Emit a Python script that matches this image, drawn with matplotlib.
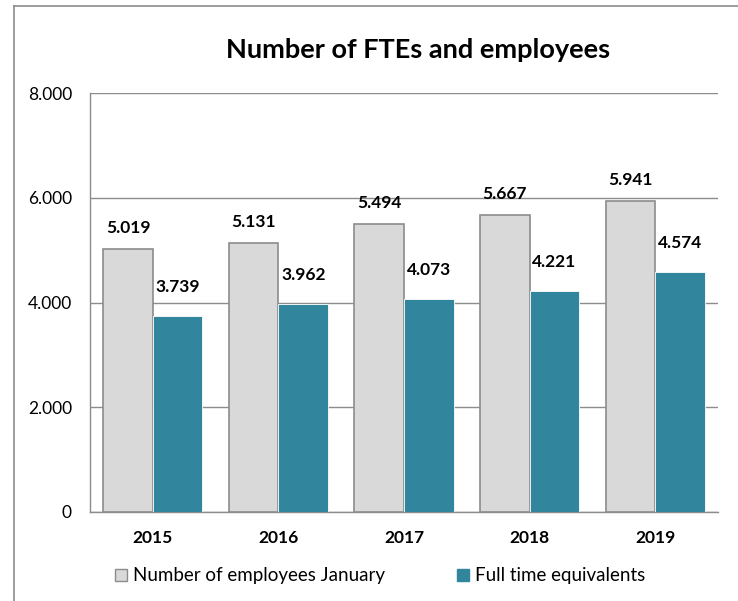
import matplotlib.pyplot as plt
import numpy as np
from matplotlib.lines import Line2D
from matplotlib.patches import Patch
from matplotlib.ticker import FuncFormatter

# Data
years = ["2015", "2016", "2017", "2018", "2019"]
employees = [5019, 5131, 5494, 5667, 5941]
ftes = [3739, 3962, 4073, 4221, 4574]
series_names = ["Number of employees January", "Full time equivalents"]

GRAY = "#D9D9D9"
GRAY_EDGE = "#8C8C8C"
TEAL = "#31859C"
LINE = "#8C8C8C"

plt.rcParams["font.family"] = ["Lato", "DejaVu Sans"]


def dot_thousands(v, pos):
    return f"{int(v):,}".replace(",", ".")


fig = plt.figure(figsize=(7.38, 6.01), dpi=100)
ax = fig.add_axes([90 / 738, 1 - 512 / 601, 628 / 738, 419 / 601])

x = np.arange(len(years))
w = 0.395
b1 = ax.bar(x - w / 2, employees, w, color=GRAY, edgecolor=GRAY_EDGE,
            linewidth=1.2, zorder=3)
b2 = ax.bar(x + w / 2, ftes, w, color=TEAL, edgecolor="white",
            linewidth=0.6, zorder=3)

for rect, v in zip(b1, employees):
    ax.annotate(dot_thousands(v, None), (rect.get_x() + rect.get_width() / 2, v),
                xytext=(0, 21), textcoords="offset pixels", ha="center",
                va="center", fontsize=12.5, fontweight="bold")
for rect, v in zip(b2, ftes):
    ax.annotate(dot_thousands(v, None), (rect.get_x() + rect.get_width() / 2, v),
                xytext=(0, 29), textcoords="offset pixels", ha="center",
                va="center", fontsize=12.5, fontweight="bold")

ax.set_xlim(-0.5, len(years) - 0.5)
ax.set_ylim(0, 8000)
ax.set_yticks([0, 2000, 4000, 6000, 8000])
ax.yaxis.set_major_formatter(FuncFormatter(dot_thousands))
ax.set_xticks(x)
ax.set_xticklabels(years, fontweight="bold")
ax.tick_params(axis="y", length=0, labelsize=12.5, pad=13)
ax.tick_params(axis="x", length=0, labelsize=12.5, pad=13)
ax.grid(axis="y", color=LINE, linewidth=1, zorder=0)

for side in ["top", "right"]:
    ax.spines[side].set_visible(False)
for side in ["left", "bottom"]:
    ax.spines[side].set_color(LINE)
    ax.spines[side].set_linewidth(1)

fig.text(418 / 738, 1 - 50 / 601, "Number of FTEs and employees",
         ha="center", va="center", fontsize=19.5, fontweight="bold")

handles = [Patch(facecolor=GRAY, edgecolor=GRAY_EDGE, linewidth=1),
           Patch(facecolor=TEAL, edgecolor=TEAL)]
fig.legend(handles, series_names, loc="center", ncol=2, frameon=False,
           bbox_to_anchor=(380 / 738, 1 - 576 / 601), fontsize=13.5,
           handlelength=0.65, handleheight=0.65, handletextpad=0.35,
           columnspacing=3.8)

# Chart area border (left and top edges)
fig.add_artist(Line2D([14 / 738, 14 / 738], [0, 1 - 6 / 601],
                      transform=fig.transFigure, color=LINE, linewidth=1.2))
fig.add_artist(Line2D([14 / 738, 1], [1 - 6 / 601, 1 - 6 / 601],
                      transform=fig.transFigure, color=LINE, linewidth=1.2))

fig.savefig("out.png", dpi=100)
